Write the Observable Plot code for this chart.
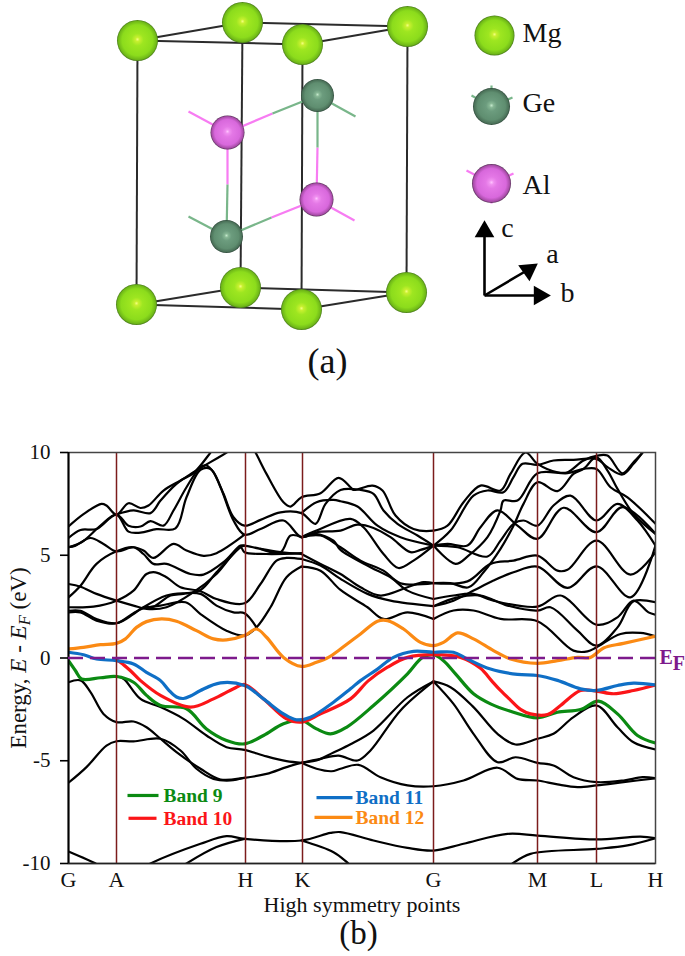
<!DOCTYPE html>
<html><head><meta charset="utf-8">
<script src="https://cdn.jsdelivr.net/npm/d3@7"></script>
<script src="https://cdn.jsdelivr.net/npm/@observablehq/plot@0.6"></script>
<style>html,body{margin:0;padding:0;background:#fff}svg{display:block;background:#fff}</style>
</head><body><div id="chart"></div>
<script>
// ---------- (a) crystal structure ----------
const mgAtoms = [[137,40],[242,22],[407,26],[302,44],[136,304],[240,287],[406,292],[301,309]];
const geAtoms = [[317,95],[226,236]];
const alAtoms = [[227,132],[316,199]];
const cellEdges = [
  [137,40,242,22],[242,22,407,26],[407,26,302,44],[302,44,137,40],
  [136,304,240,287],[240,287,406,292],[406,292,301,309],[301,309,136,304],
  [137,40,136,304],[242,22,240,287],[407,26,406,292],[302,44,301,309]];
const pinkBonds = [[227,132,272,113],[227,132,227,184],[316,199,271,217],[316,199,317,147],[227,132,188,111],[316,199,354,220],
  [491,183,466,170],[491,183,513,173],[491,183,491,203]];
const greenBonds = [[317,95,272,113],[226,236,227,184],[226,236,271,217],[317,95,317,147],[317,95,355,116],[226,236,188,216],
  [491,106,471,95],[491,106,491,85],[491,106,512,97]];
const legendAtoms = [{x:494,y:35,r:20,f:"url(#mgGrad)"},{x:491,y:106,r:18.5,f:"url(#geGrad)"},{x:491,y:183,r:19.5,f:"url(#alGrad)"}];
const atomLabels = [{x:522,y:33,t:"Mg"},{x:522,y:103,t:"Ge"},{x:522,y:185,t:"Al"}];
const axisShafts = [[484,295,484,230],[484,295,540,295],[484,295,528,269]];
const axisHeads = [{x:484,y:231,a:0},{x:539,y:295,a:90},{x:528,y:269.5,a:55}];
const axisNames = [{x:507,y:228,t:"c"},{x:552,y:254,t:"a"},{x:567,y:293,t:"b"}];

const gradDefs = () => {
  const defs = d3.create("svg:defs");
  const add = (id, stops) => {
    const g = defs.append("radialGradient").attr("id", id).attr("fx", 0.5).attr("fy", 0.47);
    stops.forEach(([o, c]) => g.append("stop").attr("offset", o).attr("stop-color", c));
  };
  add("mgGrad", [[0,"#f4ff80"],[0.1,"#c8f030"],[0.3,"#9ee620"],[0.75,"#8cdc1c"],[0.93,"#6fb818"],[1,"#47781a"]]);
  add("geGrad", [[0,"#c4e8cc"],[0.12,"#86b694"],[0.3,"#6c9c7e"],[0.75,"#5f8e70"],[0.93,"#4a7058"],[1,"#2c4638"]]);
  add("alGrad", [[0,"#ffc4ff"],[0.12,"#f090f0"],[0.3,"#e478e6"],[0.75,"#d868dc"],[0.93,"#a84ca8"],[1,"#553055"]]);
  return defs.node();
};
const seg = (arr, stroke, strokeWidth) => Plot.link(arr, {x1:d=>d[0], y1:d=>d[1], x2:d=>d[2], y2:d=>d[3], stroke, strokeWidth});
const serif = "Liberation Serif";

const crystal = Plot.plot({
  width:685, height:420, margin:0,
  x:{domain:[0,685], range:[0,685], axis:null},
  y:{domain:[0,420], range:[0,420], axis:null},
  style:{fontFamily:serif, background:"#fff"},
  marks:[
    gradDefs,
    seg(cellEdges,"#2b2b2b",2),
    seg(pinkBonds,"#f77cf2",2.2),
    seg(greenBonds,"#79b68a",2.2),
    Plot.dot(mgAtoms,{x:d=>d[0],y:d=>d[1],r:20.5,fill:"url(#mgGrad)"}),
    Plot.dot(geAtoms,{x:d=>d[0],y:d=>d[1],r:16.5,fill:"url(#geGrad)"}),
    Plot.dot(alAtoms,{x:d=>d[0],y:d=>d[1],r:17,fill:"url(#alGrad)"}),
    Plot.dot(legendAtoms,{x:"x",y:"y",r:"r",fill:"f"}),
    Plot.text(atomLabels,{x:"x",y:"y",text:"t",textAnchor:"start",fontSize:28,fill:"#111"}),
    seg(axisShafts,"#000",2.6),
    Plot.dot(axisHeads,{x:"x",y:"y",rotate:"a",symbol:"triangle",r:7.3,fill:"#000"}),
    Plot.text(axisNames,{x:"x",y:"y",text:"t",fontSize:28,fill:"#111"}),
    Plot.text(["(a)"],{x:[327],y:[361],fontSize:36,fill:"#111"})
  ],
  r:{type:"identity"}
});

// ---------- (b) band structure ----------
const xTicks = [0,48,177,234,365,469,528,587];
const xNames = ["G","A","H","K","G","M","L","H"];
const yTicks = [-10,-5,0,5,10];

const u1 = [[0,6.4],[15,7],[33,7.5],[38,7.42],[48,6.98],[60,7.53],[72,7.3],[80,7.42],[95,8.15],[112,8.64],[125,9],[142,10],[148,10.4]];
const u2 = [[48,6.98],[65,7.18],[82,7.05],[92,7.66],[108,8.47],[125,9.04],[160,10.06],[165,10.26]];
const u3 = [[0,5.84],[12,6.23],[28,6.28],[48,6.98],[60,6.44],[72,6.4],[82,6.66],[95,6.44],[105,7.18],[118,8.31],[132,9.29],[138,9.37],[145,9.04],[155,7.99],[165,6.85],[176,6.44],[192,6.72],[212,7.09],[233,7.05],[247,6.53],[257,7.5],[272,8.18],[292,8.18],[305,7.99],[315,7.18],[329,6.53],[349,5.96],[365,5.47]];
const u4 = [[0,5.39],[13,5.63],[32,6.44],[48,6.98],[60,6.15],[72,6.1],[88,6.27],[107,6.31],[118,7.82],[132,9.16],[142,9.2],[152,8.31],[165,6.69],[176,6],[192,6.28],[215,6.69],[233,5.88],[248,6.12],[272,6.2],[289,6.49],[305,6.33],[322,5.88],[342,5.15],[352,5.26],[365,5.47]];
const u5 = [[182,10.4],[187,10],[198,8.96],[215,7.58],[222,7.37],[233,7.82],[252,8.02],[270,8.77],[282,8.31],[285,8.18],[304,8.39],[314,8.15],[327,6.93],[345,6.28],[365,6.2],[379,6.44],[395,7.58],[412,8.39],[432,8.15],[442,8.96],[457,10],[469,9.45],[489,9.04],[499,9.04],[515,9.61],[529,9.85],[539,9.85],[554,8.99],[565,9.53],[574,10],[577,10.26]];
const u6 = [[233,7.05],[248,7.58],[265,7.69],[272,7.63],[289,7.37],[309,6.44],[332,5.88],[365,5.47]];
const u7 = [[233,5.88],[248,6.2],[282,6.77],[295,6.36],[315,5.06],[330,4.38],[345,4.74],[365,5.47]];
const u8 = [[365,5.47],[382,6.2],[405,7.9],[419,8.15],[435,8.07],[445,8.8],[454,9.45],[469,9.4],[485,9.61],[505,9.64],[528,9.69],[539,9.29],[554,8.93],[565,9.45],[574,10]];
const u9 = [[365,5.47],[379,5.55],[399,5.47],[412,6.36],[429,7.18],[449,6.44],[469,5.8],[495,7.31],[528,6.12],[554,7.34],[587,6.04]];
const u10 = [[365,5.47],[387,4.58],[400,4.98],[419,5.88],[432,7.18],[435,7.66],[449,7.66],[469,8.99],[499,8.99],[515,9.2],[528,9.2],[542,8.31],[559,7.82],[587,6.53]];
const u11 = [[365,5.47],[389,5.39],[419,4.94],[432,5.71],[445,6.53],[455,6.69],[469,6.44],[485,7.42],[502,7.9],[528,6.69],[549,7.5],[569,6.69],[587,5.47]];
const u12 = [[365,3.64],[382,3.64],[400,3.44],[415,4.17],[432,5.31],[445,6.44],[455,7.5],[469,8.55],[489,8.12],[505,8.96],[515,9.2],[528,9.77],[539,9.12],[549,8.23],[565,7.01],[587,6.04]];
const m1 = [[365,3.64],[399,3.73],[422,4.58],[445,4.74],[469,4.98],[489,4.25],[499,4.29],[528,5.71],[562,4.06],[587,5.15]];
const m2 = [[365,2.52],[385,2.79],[405,3.28],[425,3.77],[445,4.17],[469,4.45],[499,3.41],[528,4.46],[562,2.95],[587,5.47]];
const m3 = [[365,2.87],[385,3.04],[405,3.12],[425,2.79],[469,2.5],[492,3.04],[528,1.62],[549,1.98],[565,2.79],[580,2.22],[587,2.11]];
const m4 = [[365,2.52],[389,2.95],[412,3.04],[439,2.55],[469,2.31],[482,2.47],[509,1.33],[528,0.6],[549,1.49],[565,2.76],[587,2.71]];
const m5 = [[365,1.9],[385,2.31],[405,2.31],[432,1.9],[469,1.79],[505,0.36],[519,0.32],[528,0.52],[552,1.17],[572,1.22],[587,1.06]];
const n1 = [[233,5.88],[252,5.96],[272,5.39],[292,4.74],[315,4.25],[332,3.64],[365,3.64]];
const n2 = [[233,5.88],[247,6.04],[265,5.71],[272,5.26],[302,4.42],[322,3.93],[339,3.28],[365,2.87]];
const n3 = [[233,5.06],[252,4.58],[272,4.09],[292,3.44],[312,3.04],[339,3.44],[355,3.69],[365,3.64]];
const n4 = [[233,4.82],[252,4.5],[272,3.85],[299,3.12],[322,2.79],[365,2.52]];
const n5 = [[233,4.45],[252,4.25],[272,3.31],[299,2.47],[315,1.9],[339,2.22],[365,1.9]];
const p1 = [[0,5.39],[7,5.47],[22,5.84],[35,5.55],[48,5.19],[65,5.39],[75,5.23],[85,4.87],[105,5.55],[118,5.23],[135,4.97],[148,5.1],[176,6]];
const p2 = [[0,2.95],[12,3.52],[28,4.58],[48,5.19],[65,5.39],[75,5.06],[85,4.58],[98,4.58],[122,4.09],[135,4.06],[155,4.66],[172,5.47],[176,5.47],[192,5.31],[212,5.15],[233,5.06]];
const p3 = [[0,3.6],[12,3.47],[28,3.12],[48,2.79],[65,2.55],[78,2.39],[98,2.47],[125,3.2],[148,4.09],[172,5.39],[176,5.15],[198,5.06],[233,5.1]];
const p4 = [[0,2.47],[25,2.5],[48,2.79],[65,3.28],[78,4.09],[87,4.17],[98,3.93],[112,3.44],[132,3.25],[148,2.87],[176,2.66],[192,3.6],[208,4.74],[218,4.87],[233,4.82]];
const p5 = [[0,2.3],[12,2.3],[28,1.9],[48,1.69],[65,2.14],[75,2.47],[85,2.5],[102,3.04],[115,3.12],[132,3.31],[148,4.17],[172,5.39],[176,5.47]];
const p6 = [[0,2.22],[12,2.22],[28,1.82],[48,1.69],[65,2.18],[75,2.42],[92,2.55],[117,2.71],[132,2.14],[158,1.33],[176,1.09],[188,1.49],[202,2.47],[218,3.93],[233,4.45]];
const p7 = [[75,2.47],[98,3.04],[115,3.15],[132,3.12],[148,2.55],[165,2.22],[176,2.18],[188,1.49]];
const p8 = [[192,5.31],[212,5.15],[222,5.96],[233,5.88]];
const l1 = [[0,-1.18],[12,-1.09],[22,-1.66],[35,-2.72],[48,-3.12],[65,-3.09],[78,-3.37],[92,-3.93],[108,-4.58],[132,-5.39],[152,-5.91],[176,-5.83],[198,-5.64],[218,-5.31],[233,-5.1],[248,-4.99],[265,-4.6],[282,-4.2],[305,-3.53],[339,-1.91],[365,-1.14]];
const l2 = [[0,-6.07],[18,-5.31],[38,-4.26],[48,-4.05],[65,-4.06],[92,-3.93],[112,-4.5],[128,-5.39],[145,-5.88],[162,-5.96],[176,-5.83]];
const l3 = [[48,-0.9],[55,-1.01],[72,-1.99],[92,-2.39],[115,-2.96],[138,-3.77],[158,-4.34],[176,-4.47],[198,-4.79],[218,-5.02],[233,-5.1]];
const l4 = [[233,-5.1],[252,-4.91],[270,-4.75],[289,-4.99],[302,-4.5],[332,-2.55],[365,-1.14]];
const l5 = [[233,-5.1],[248,-5.39],[263,-5.51],[272,-5.39],[290,-5.2],[312,-5.8],[339,-6.2],[365,-6.24],[395,-5.96],[429,-5.34],[449,-5.88],[469,-5.96],[489,-6.15],[509,-6.28],[528,-6.2],[555,-6.04],[587,-5.85]];
const l6 = [[365,-1.14],[382,-1.42],[405,-2.39],[429,-3.69],[447,-4.21],[469,-3.93],[485,-3.69],[505,-2.88],[528,-2.31],[549,-3.37],[565,-4.1],[587,-4.45]];
const l7 = [[365,-1.14],[385,-2.23],[405,-3.69],[429,-5.07],[447,-4.83],[469,-5.1],[485,-5.23],[505,-5.8],[528,-6.04],[555,-5.96],[574,-5.8],[587,-5.85]];
const b1 = [[0,-9.42],[28,-10.02],[35,-10.2]];
const b2 = [[75,-10.2],[82,-10],[132,-9.04],[158,-8.67],[176,-8.8],[233,-8.88],[262,-8.51],[272,-8.47],[305,-8.88],[339,-9.24],[365,-9.37],[395,-9.04],[439,-8.56],[469,-8.64],[528,-8.83],[572,-8.69],[587,-8.77]];
const b3 = [[112,-10.2],[118,-10],[148,-9.2],[176,-8.8]];
const b4 = [[233,-8.88],[265,-9.45],[280,-10],[285,-10.2]];
const b5 = [[439,-10.2],[444,-10],[462,-9.53],[528,-9.29],[559,-9.12],[587,-8.77]];

const band9 = [[0,-0.13],[7,-0.62],[13,-1.02],[32,-0.96],[48,-0.9],[65,-1.18],[78,-1.82],[92,-2.31],[118,-2.47],[138,-3.45],[158,-4.01],[176,-4.18],[195,-3.77],[215,-3.2],[233,-3.04],[248,-3.45],[262,-3.69],[278,-3.37],[305,-2.31],[339,-0.77],[354,0.03],[365,0.16],[375,-0.13],[387,-0.77],[405,-1.74],[422,-2.23],[442,-2.59],[469,-2.91],[489,-2.64],[512,-2.51],[530,-2.1],[549,-2.72],[569,-3.77],[587,-4.14]];
const band10 = [[48,-0.1],[52,-0.21],[62,-0.62],[72,-1.1],[92,-1.82],[122,-2.39],[145,-1.99],[165,-1.5],[176,-1.29],[195,-1.99],[218,-2.96],[233,-3.12],[252,-2.72],[282,-1.99],[300,-1.1],[319,-0.45],[339,0.03],[365,0.16],[392,0.03],[412,-0.5],[423,-1.1],[432,-1.58],[442,-2.05],[452,-2.5],[462,-2.72],[479,-2.75],[492,-2.31],[512,-1.58],[528,-1.61],[545,-1.74],[565,-1.58],[587,-1.31]];
const band11 = [[0,0.28],[15,0.16],[28,-0.05],[48,-0.13],[65,-0.29],[78,-0.7],[92,-1.1],[100,-1.55],[108,-1.9],[115,-1.97],[122,-1.85],[132,-1.58],[152,-1.21],[176,-1.34],[195,-1.99],[215,-2.72],[228,-3.01],[242,-2.88],[265,-2.15],[282,-1.5],[292,-1.1],[309,-0.54],[325,0.03],[345,0.32],[365,0.28],[385,0.28],[399,-0.05],[422,-0.54],[449,-0.8],[469,-0.85],[489,-1.09],[512,-1.5],[528,-1.58],[549,-1.34],[565,-1.22],[587,-1.31]];
const band12 = [[0,0.44],[15,0.52],[32,0.65],[48,0.71],[57,0.93],[68,1.49],[78,1.77],[93,1.9],[108,1.79],[128,1.33],[145,0.93],[158,0.88],[176,1.09],[188,1.41],[198,1.01],[215,0.03],[233,-0.41],[248,-0.21],[260,0.03],[272,0.44],[292,1.17],[309,1.79],[319,1.82],[335,1.41],[352,0.76],[365,0.6],[375,0.76],[389,1.22],[405,0.93],[425,0.36],[442,-0.05],[469,-0.26],[489,-0.13],[509,0.03],[522,0.03],[535,0.49],[555,0.71],[587,1.06]];

const blackBands = [u1,u2,u3,u4,u5,u6,u7,u8,u9,u10,u11,u12,m1,m2,m3,m4,m5,n1,n2,n3,n4,n5,p1,p2,p3,p4,p5,p6,p7,p8,l1,l2,l3,l4,l5,l6,l7,b1,b2,b3,b4,b5];
const green="#0b8a12", red="#fb1518", blue="#0f6fc6", orange="#fb8a14", purple="#7d1a8c", wine="#7c1c1c";
const legendLines = [
  {t:"Band 9", c:green, x1:59, x2:90, y:-6.69, tx:95},
  {t:"Band 10", c:red, x1:60, x2:88, y:-7.8, tx:95},
  {t:"Band 11", c:blue, x1:248, x2:284, y:-6.79, tx:287},
  {t:"Band 12", c:orange, x1:246, x2:284, y:-7.76, tx:287}];

const bandLine = (data, stroke, strokeWidth) => Plot.line(data, {x:d=>d[0], y:d=>d[1], stroke, strokeWidth, curve:"catmull-rom", clip:true});

const bands = Plot.plot({
  width:685, height:536, marginLeft:68, marginRight:30, marginTop:32, marginBottom:93,
  x:{domain:[0,587]}, y:{domain:[-10,10]},
  style:{fontFamily:serif, background:"#fff", color:"#111"},
  marks:[
    ...blackBands.map(b => bandLine(b,"#000",2.2)),
    bandLine(band9,green,3.2),
    bandLine(band10,red,3.2),
    bandLine(band11,blue,3.2),
    bandLine(band12,orange,3.2),
    Plot.ruleX(xTicks.slice(1,-1),{stroke:wine,strokeWidth:1.5}),
    Plot.frame({stroke:"#444",strokeWidth:1.5}),
    Plot.ruleX([0],{stroke:"#000",strokeWidth:2}),
    Plot.ruleY([-10],{stroke:"#222",strokeWidth:1.6}),
    Plot.ruleY([0],{stroke:purple,strokeWidth:2.4,strokeDasharray:"15,7"}),
    Plot.axisY({ticks:yTicks,tickSize:8,tickPadding:10,tickFormat:d=>String(d),fontSize:21,stroke:"#000",strokeWidth:1.6,
      label:"Energy, E - EF (eV)",labelAnchor:"center",labelArrow:"none",labelOffset:59}),
    Plot.axisX({ticks:xTicks,tickSize:0,tickPadding:8,tickFormat:(d,i)=>xNames[i],fontSize:22,
      label:"High symmetry points",labelAnchor:"center",labelArrow:"none",labelOffset:48}),
    Plot.link(legendLines,{x1:"x1",x2:"x2",y1:"y",y2:"y",stroke:"c",strokeWidth:3.2}),
    Plot.text(legendLines,{x:"tx",y:"y",text:"t",fill:"c",textAnchor:"start",fontSize:19.5,fontWeight:"bold"}),
    Plot.text(["EF"],{x:[591],y:[0],textAnchor:"start",fontWeight:"bold",fontSize:20,fill:purple}),
    Plot.text(["(b)"],{x:[290],y:[-13.4],fontSize:33,fill:"#111"})
  ]
});
// Sub/italic runs inside the composite labels, and the sizes of the two axis titles
d3.select(bands).selectAll("text").each(function(){
  const t = this.textContent;
  const host = d3.select(this);
  const leaf = this.querySelector("tspan") ? d3.select(this).select("tspan") : host;
  if (t.startsWith("Energy,")) {
    host.attr("font-size", 23);
    leaf.text(null);
    leaf.append("tspan").text("Energy, ");
    leaf.append("tspan").attr("font-style","italic").text("E - E");
    leaf.append("tspan").attr("font-style","italic").attr("font-size","0.72em").attr("dy","0.25em").text("F");
    leaf.append("tspan").attr("dy","-0.18em").text(" (eV)");
  } else if (t === "High symmetry points") {
    host.attr("font-size", 22);
  } else if (t === "EF") {
    leaf.text(null);
    leaf.append("tspan").text("E");
    leaf.append("tspan").attr("dy","0.3em").text("F");
  }
});
const root = document.getElementById("chart");
root.append(crystal, bands);
</script></body></html>
